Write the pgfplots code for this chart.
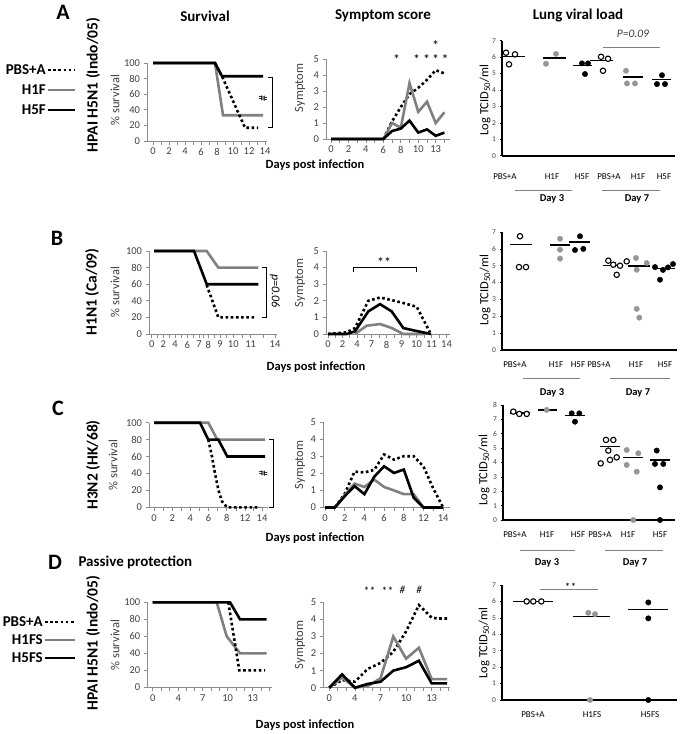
\documentclass[border=0pt]{standalone}
\usepackage{fontspec}
\setmainfont{Carlito}
\usepackage{pgfplots}
\pgfplotsset{compat=1.18}
\definecolor{gline}{RGB}{128,128,128}
\definecolor{gdot}{RGB}{150,150,150}
\definecolor{axg}{RGB}{140,140,140}
\definecolor{tickc}{RGB}{64,64,64}
\newcommand\tickf{\fontsize{10.5}{12}\selectfont}
\newcommand\ylf{\fontsize{12.5}{14}\selectfont}
\newcommand\rowf{\fontsize{15.5}{17}\selectfont\bfseries}
\newcommand\legf{\fontsize{15}{17}\selectfont\bfseries}
\newcommand\titf{\fontsize{15}{18}\selectfont\bfseries}
\newcommand\letf{\fontsize{22}{24}\selectfont\bfseries}
\newcommand\dpif{\fontsize{12.5}{15}\selectfont\bfseries}
\newcommand\luxf{\fontsize{9}{11}\selectfont}
\newcommand\dayf{\fontsize{10.5}{12}\selectfont\bfseries}
\newcommand\starf{\fontsize{14}{15}\selectfont}
\newcommand\stards{\fontsize{12}{13}\selectfont}
\tikzset{
 dotl/.style={black, line width=2.6pt, dash pattern=on 2.6pt off 2.6pt},
 gl/.style={gline, line width=2.6pt},
 bl/.style={black, line width=2.6pt},
 brk/.style={black, line width=0.7pt},
 st/.style={anchor=base, inner sep=0, font=\starf},
}
\pgfplotsset{
 xl/.style={scale only axis, clip=false, anchor=south west,
   axis x line*=bottom, axis y line*=left,
   axis line style={draw=axg, line width=0.9pt},
   every tick/.style={draw=axg, line width=0.8pt},
   tick align=outside, major tick length=3.5pt, minor tick length=3.5pt,
   ticklabel style={font=\tickf, text=tickc},
   /pgf/number format/assume math mode=true},
 sv/.style={xl, ymin=0, ymax=100, ytick={0,20,40,60,80,100}},
 sy/.style={xl, ymin=0, ymax=5, ytick={0,1,2,3,4,5}},
 lu/.style={scale only axis, clip=false, anchor=south west,
   axis x line*=bottom, axis y line*=left,
   axis line style={black, line width=2.4pt},
   xtick=\empty, ymin=0, ytick distance=1, minor y tick num=4,
   tick align=outside, major tick length=2.5pt, minor tick length=1.5pt,
   every tick/.style={black, line width=0.6pt},
   yticklabel style={font=\fontsize{7.5}{8}\selectfont, text=tickc},
   /pgf/number format/assume math mode=true},
 op/.style={only marks, mark=*, mark size=2.7pt, mark options={draw=black, fill=white, line width=1.1pt}},
 gp/.style={only marks, mark=*, mark size=2.7pt, mark options={draw=gdot, fill=gdot}},
 bp/.style={only marks, mark=*, mark size=2.7pt, mark options={draw=black, fill=black}},
 md/.style={black, line width=1.3pt},
}
\begin{document}
\begin{tikzpicture}
\path[use as bounding box] (0pt,0pt) rectangle (685pt,-734pt);

% ---------- headers ----------
\node[font=\letf] at (63pt,-12pt) {A};
\node[font=\titf] at (205pt,-16pt) {Survival};
\node[font=\titf] at (383pt,-16pt) {Symptom score};
\node[font=\titf] at (578pt,-16pt) {Lung viral load};

% ---------- Row A texts ----------
\node[anchor=east, inner sep=0, font=\legf] at (46pt,-70pt) {PBS+A};
\node[anchor=east, inner sep=0, font=\legf] at (46pt,-90pt) {H1F};
\node[anchor=east, inner sep=0, font=\legf] at (46pt,-110pt) {H5F};
\draw[dotl] (48pt,-70pt) -- (75pt,-70pt);
\draw[gl] (48pt,-90pt) -- (75pt,-90pt);
\draw[bl] (48pt,-110pt) -- (75pt,-110pt);
\node[rotate=90, font=\rowf] at (93pt,-85pt) {HPAI H5N1 (Indo/05)};
\node[rotate=90, font=\ylf, text=tickc] at (115pt,-100pt) {\% survival};
\node[rotate=90, font=\ylf, text=tickc] at (300pt,-88pt) {Symptom};
\node[font=\dpif] at (315pt,-165pt) {Days post infection};
\node[rotate=90, font=\ylf] at (485pt,-100pt) {Log TCID\textsubscript{50}/ml};

% ---------- A survival ----------
\begin{axis}[sv, at={(147pt,-141pt)}, width=120pt, height=78pt, xmin=147, xmax=267,
 xtick={153,169,185,201,217,233,249,265}, xticklabels={0,2,4,6,8,10,12,14},
 minor xtick={161,177,193,209,225,241,257}]
\addplot[gl] coordinates {(153,100)(215,100)(223,33)(263,33)};
\addplot[bl] coordinates {(153,100)(215,100)(222,83)(263,83)};
\addplot[dotl] coordinates {(215,100)(222,83)(245,17)(258,17)};
\draw[brk] (axis cs:268,81) -- (axis cs:272,81) -- (axis cs:272,18) -- (axis cs:268,18);
\node[rotate=90, font=\fontsize{12}{14}\selectfont] at (axis cs:263,55) {\#};
\end{axis}

% ---------- A symptom ----------
\begin{axis}[sy, at={(326pt,-139pt)}, width=124pt, height=80pt, xmin=326, xmax=450,
 xtick={331,348.45,365.9,383.35,400.8,418.25,435.7}, xticklabels={0,2,4,6,8,10,13},
 minor xtick={339.7,357.2,374.6,392.1,409.5,427,444.4}]
\addplot[dotl] coordinates {(383.35,0)(392.1,1.1)(400.8,2.0)(409.5,2.8)(418.25,3.2)(427,3.7)(435.7,4.3)(444.4,4.1)};
\addplot[gl] coordinates {(331,0)(383.35,0)(392.1,1.0)(400.8,0.7)(409.5,3.5)(418.25,1.7)(427,2.33)(435.7,1.0)(444.4,1.67)};
\addplot[bl] coordinates {(331,0)(383.35,0)(392.1,0.5)(400.8,0.65)(409.5,1.15)(418.25,0.4)(427,0.6)(435.7,0.2)(444.4,0.4)};
\node[st] at (axis cs:396.7,4.65) {*};
\node[st] at (axis cs:416.7,4.65) {*};
\node[st] at (axis cs:426.7,4.65) {*};
\node[st] at (axis cs:435.7,4.65) {*};
\node[st] at (axis cs:445,4.65) {*};
\node[st] at (axis cs:435.7,5.55) {*};
\end{axis}

% ---------- A lung ----------
\begin{axis}[lu, at={(502pt,-155.7pt)}, width=173pt, height=115pt, xmin=502, xmax=675, ymax=7]
\addplot[md] coordinates {(503,6.05)(525,6.05)};
\addplot[op] coordinates {(506,6.27)(515,6.17)(509,5.56)};
\addplot[md] coordinates {(543,5.95)(566,5.95)};
\addplot[gp] coordinates {(556,6.2)(546,5.6)};
\addplot[md] coordinates {(573,5.5)(592,5.5)};
\addplot[bp] coordinates {(582,5.62)(588,5.62)(585,4.97)};
\addplot[md] coordinates {(590,5.8)(613,5.8)};
\addplot[op] coordinates {(601,6.02)(608,5.9)(603,5.17)};
\addplot[md] coordinates {(623,4.8)(643,4.8)};
\addplot[gp] coordinates {(626,5.17)(627,4.4)(635,4.4)};
\addplot[md] coordinates {(652,4.65)(671,4.65)};
\addplot[bp] coordinates {(662,4.9)(657,4.36)(665,4.36)};
\end{axis}
\draw[gline, line width=0.9pt] (603pt,-47pt) -- (660pt,-47pt);
\node[font=\itshape\fontsize{11.5}{13}\selectfont, text=tickc] at (633pt,-34pt) {P=0.09};
\foreach \lx/\lt in {505/PBS+A,552/H1F,582/H5F,609/PBS+A,638/H1F,664/H5F}{
 \node[font=\luxf] at (\lx pt,-177pt) {\lt};}
\draw[gline, line width=0.9pt] (515pt,-190pt) -- (572pt,-190pt);
\draw[gline, line width=0.9pt] (602pt,-190pt) -- (660pt,-190pt);
\node[font=\dayf] at (552pt,-199pt) {Day 3};
\node[font=\dayf] at (637pt,-199pt) {Day 7};

% ---------- Row B texts ----------
\node[font=\letf] at (57pt,-238pt) {B};
\node[rotate=90, font=\rowf] at (92pt,-292pt) {H1N1 (Ca/09)};
\node[rotate=90, font=\ylf, text=tickc] at (115pt,-292pt) {\% survival};
\node[rotate=90, font=\ylf, text=tickc] at (300pt,-283pt) {Symptom};
\node[font=\dpif] at (316pt,-367pt) {Days post infection};
\node[rotate=90, font=\ylf] at (485pt,-290pt) {Log TCID\textsubscript{50}/ml};

% ---------- B survival ----------
\begin{axis}[sv, at={(149pt,-334pt)}, width=128pt, height=83pt, xmin=149, xmax=277,
 xtick={151.7,163.3,175,187.3,199,208.3,220,233.3,250.7,275}, xticklabels={0,2,4,6,7,8,9,10,11,14},
 minor xtick={157.5,169.2,181.2,193.2,203.7,214.2,226.7,242,262.9}]
\addplot[gl] coordinates {(154,100)(206.7,100)(218.3,80)(258.3,80)};
\addplot[bl] coordinates {(154,100)(194,100)(206.7,60)(258.3,60)};
\addplot[dotl] coordinates {(206.7,59)(218.3,20)(256.7,20)};
\draw[brk] (axis cs:262,80) -- (axis cs:266.7,80) -- (axis cs:266.7,20) -- (axis cs:262,20);
\node[rotate=-90, font=\itshape\fontsize{12}{14}\selectfont] at (axis cs:275,52) {p=0.06};
\end{axis}

% ---------- B symptom ----------
\begin{axis}[sy, at={(326pt,-334pt)}, width=124pt, height=83pt, xmin=326, xmax=450,
 xtick={328,342.5,357,371.5,386.5,401.5,416.5,431.5,446.5}, xticklabels={0,2,4,7,8,9,10,11,14},
 minor xtick={335.2,349.7,364.2,379,394,409,424,439}]
\addplot[dotl] coordinates {(328,0)(346.7,0.1)(355,0.36)(368.3,2.0)(380,2.2)(391.7,2.04)(405,1.84)(416.7,1.64)(430,0.1)};
\addplot[gl] coordinates {(355,0)(366.7,0.5)(380,0.6)(391.7,0.36)(403.3,0)(425,0)};
\addplot[bl] coordinates {(328,0)(346.7,0)(355,0.16)(368.3,1.36)(380,1.8)(391.7,1.36)(403.3,0.36)(415,0.2)(431,0)};
\draw[brk] (axis cs:353.3,3.76) -- (axis cs:353.3,4.04) -- (axis cs:416.7,4.04) -- (axis cs:416.7,3.76);
\node[st] at (axis cs:384,4.0) {**};
\end{axis}

% ---------- B lung ----------
\begin{axis}[lu, at={(502pt,-350pt)}, width=175pt, height=118pt, xmin=502, xmax=677, ymax=7]
\addplot[md] coordinates {(510,6.25)(532,6.25)};
\addplot[op] coordinates {(520,6.75)(519,4.92)(526,4.92)};
\addplot[md] coordinates {(550,6.23)(570,6.23)};
\addplot[gp] coordinates {(560,6.6)(560,5.95)(560,5.42)};
\addplot[md] coordinates {(569,6.4)(590,6.4)};
\addplot[bp] coordinates {(580,6.75)(575,5.93)(583.3,6.0)};
\addplot[md] coordinates {(603,5.0)(623,5.0)};
\addplot[op] coordinates {(608.3,5.3)(613.3,5.06)(620,5.0)(626.7,5.26)(616.7,4.46)};
\addplot[md] coordinates {(628,4.98)(650,4.98)};
\addplot[gp] coordinates {(636,5.46)(636.7,4.76)(646.7,5.16)(636.7,2.44)(639.3,1.92)};
\addplot[md] coordinates {(653,4.85)(675,4.85)};
\addplot[bp] coordinates {(655,4.92)(663,4.75)(668,4.9)(673,5.1)(660,4.17)};
\end{axis}
\foreach \lx/\lt in {515/PBS+A,556/H1F,578/H5F,599/PBS+A,636/H1F,665/H5F}{
 \node[font=\luxf] at (\lx pt,-365pt) {\lt};}
\draw[gline, line width=0.9pt] (523pt,-378pt) -- (580pt,-378pt);
\draw[gline, line width=0.9pt] (610pt,-378pt) -- (670pt,-378pt);
\node[font=\dayf] at (552pt,-393pt) {Day 3};
\node[font=\dayf] at (638pt,-393pt) {Day 7};

% ---------- Row C texts ----------
\node[font=\letf] at (58pt,-408pt) {C};
\node[rotate=90, font=\rowf] at (93pt,-465pt) {H3N2 (HK/68)};
\node[rotate=90, font=\ylf, text=tickc] at (113pt,-465pt) {\% survival};
\node[rotate=90, font=\ylf, text=tickc] at (300pt,-465pt) {Symptom};
\node[font=\dpif] at (315pt,-538pt) {Days post infection};
\node[rotate=90, font=\ylf] at (484pt,-470pt) {Log TCID\textsubscript{50}/ml};

% ---------- C survival ----------
\begin{axis}[sv, at={(149pt,-507.3pt)}, width=119pt, height=84.6pt, xmin=149, xmax=268,
 xtick={154,172.2,190.4,208.6,226.8,245,262}, xticklabels={0,2,4,6,8,12,14},
 minor xtick={163.1,181.3,199.5,217.7,235.9,253.5}]
\addplot[gl] coordinates {(154,100)(208.3,100)(217.3,80)(265,80)};
\addplot[bl] coordinates {(154,100)(200,100)(208.3,80)(218.3,80)(227.3,60)(265,60)};
\addplot[dotl] coordinates {(208.3,80)(212,60)(215,40)(218.5,20)(222,7)(227,0)(260,0)};
\draw[brk] (axis cs:269,80) -- (axis cs:273.3,80) -- (axis cs:273.3,0) -- (axis cs:269,0);
\node[rotate=90, font=\fontsize{12}{14}\selectfont] at (axis cs:263.3,40) {\#};
\end{axis}

% ---------- C symptom ----------
\begin{axis}[sy, at={(323pt,-507.5pt)}, width=127pt, height=85.5pt, xmin=323, xmax=450,
 xtick={325,344.7,364.4,384.1,403.8,423.5,443.2}, xticklabels={0,2,4,6,8,12,14},
 minor xtick={334.85,354.55,374.25,393.95,413.65,433.35}]
\addplot[dotl] coordinates {(325,0)(334.85,0)(344.7,0.8)(354.55,2.1)(364.4,2.05)(374.25,2.2)(384.1,3.1)(393.95,2.8)(403.8,3.0)(413.65,3.0)(423.5,2.4)(433.35,1.1)(443.2,0)};
\addplot[gl] coordinates {(325,0)(334.85,0)(344.7,0.72)(354.55,1.4)(364.4,1.2)(374.25,1.63)(384.1,1.2)(393.95,1.0)(403.8,0.78)(413.65,0.78)(423.5,0)};
\addplot[bl] coordinates {(325,0)(334.85,0)(344.7,0.66)(354.55,1.25)(364.4,0.78)(374.25,1.8)(384.1,2.41)(393.95,2.02)(403.8,2.22)(413.65,0.58)(423.5,0)(433.35,0)(443.2,0)};
\end{axis}

% ---------- C lung ----------
\begin{axis}[lu, at={(503pt,-520pt)}, width=172pt, height=115pt, xmin=503, xmax=675, ymax=8]
\addplot[md] coordinates {(510,7.45)(530,7.45)};
\addplot[op] coordinates {(513.3,7.54)(519.3,7.38)(526.7,7.38)};
\addplot[md] coordinates {(538,7.66)(557,7.66)};
\addplot[gp] coordinates {(546.7,7.66)};
\addplot[md] coordinates {(565,7.26)(585,7.26)};
\addplot[bp] coordinates {(571.7,7.42)(579.3,7.42)(575,6.84)};
\addplot[md] coordinates {(600,5.1)(620,5.1)};
\addplot[op] coordinates {(606,5.57)(613.3,5.57)(608.3,4.83)(600.7,3.94)(610,4.18)(616.7,4.36)};
\addplot[md] coordinates {(623,4.36)(643,4.36)};
\addplot[gp] coordinates {(626.7,4.87)(638.3,4.64)(626.7,3.83)(636.7,3.36)(633.3,0)};
\addplot[md] coordinates {(650,4.18)(670,4.18)};
\addplot[bp] coordinates {(656.7,4.83)(655,3.9)(663.3,3.9)(660,2.27)(660,0)};
\end{axis}
\foreach \lx/\lt in {515/PBS+A,547/H1F,578/H5F,600/PBS+A,628/H1F,660/H5F}{
 \node[font=\luxf] at (\lx pt,-535pt) {\lt};}
\draw[gline, line width=0.9pt] (520pt,-550pt) -- (575pt,-550pt);
\draw[gline, line width=0.9pt] (605pt,-550pt) -- (663pt,-550pt);
\node[font=\dayf] at (547pt,-563pt) {Day 3};
\node[font=\dayf] at (635pt,-563pt) {Day 7};

% ---------- Row D texts ----------
\node[font=\letf] at (55pt,-562pt) {D};
\node[anchor=west, font=\titf] at (75pt,-562pt) {Passive protection};
\node[anchor=east, inner sep=0, font=\legf] at (43pt,-622pt) {PBS+A};
\node[anchor=east, inner sep=0, font=\legf] at (43pt,-640pt) {H1FS};
\node[anchor=east, inner sep=0, font=\legf] at (43pt,-658pt) {H5FS};
\draw[dotl] (45pt,-622pt) -- (75pt,-622pt);
\draw[gl] (45pt,-640pt) -- (75pt,-640pt);
\draw[bl] (45pt,-658pt) -- (75pt,-658pt);
\node[rotate=90, font=\rowf] at (93pt,-643pt) {HPAI H5N1 (Indo/05)};
\node[rotate=90, font=\ylf, text=tickc] at (115pt,-645pt) {\% survival};
\node[rotate=90, font=\ylf, text=tickc] at (300pt,-645pt) {Symptom};
\node[font=\dpif] at (305pt,-725pt) {Days post infection};
\node[rotate=90, font=\ylf] at (484pt,-643pt) {Log TCID\textsubscript{50}/ml};

% ---------- D survival ----------
\begin{axis}[sv, at={(147.3pt,-687.3pt)}, width=124.4pt, height=85pt, xmin=147.3, xmax=271.7,
 xtick={152.7,178.3,202.7,227.7,252.7}, xticklabels={0,4,7,10,13},
 minor xtick={161.2,169.7,186.5,194.6,211,219.4,236,244.4,261,269}]
\addplot[gl] coordinates {(152.7,100)(216.7,100)(226.7,60)(240,40)(266.7,40)};
\addplot[dotl] coordinates {(228.3,100)(239.3,20)(265,20)};
\addplot[bl] coordinates {(152.7,100)(230,100)(240,80)(266.7,80)};
\end{axis}

% ---------- D symptom ----------
\begin{axis}[sy, at={(323.3pt,-687.7pt)}, width=126.7pt, height=85.4pt, xmin=323.3, xmax=450,
 xtick={329.3,354.9,380.5,406.1,431.7}, xticklabels={0,4,7,10,13},
 minor xtick={337.8,346.4,363.4,372,389,397.6,414.6,423.2,440.3,448.8}]
\addplot[dotl] coordinates {(329.3,0)(342.1,0.45)(354.9,0.35)(367.7,1.1)(380.5,1.45)(393.3,2.1)(406.1,3.3)(418.9,4.84)(431.7,4.1)(438,4.05)(447,4.05)};
\addplot[gl] coordinates {(329.3,0)(342.1,0.6)(354.9,0)(367.7,0.1)(380.5,0.55)(393.3,3.0)(406.1,1.7)(418.9,2.34)(431.7,0.5)(447,0.5)};
\addplot[bl] coordinates {(329.3,0)(342.1,0.78)(354.9,0)(367.7,0.22)(380.5,0.35)(393.3,1.0)(406.1,1.2)(418.9,1.58)(431.7,0.25)(447,0.25)};
\node[st, font=\itshape\stards] at (axis cs:369,5.4) {**};
\node[st, font=\itshape\stards] at (axis cs:387,5.4) {**};
\node[st, font=\itshape\fontsize{11}{12}\selectfont] at (axis cs:402.3,5.5) {\#};
\node[st, font=\itshape\fontsize{11}{12}\selectfont] at (axis cs:419,5.5) {\#};
\end{axis}

% ---------- D lung ----------
\begin{axis}[lu, at={(502pt,-700pt)}, width=175pt, height=115pt, xmin=502, xmax=677, ymax=7]
\addplot[md] coordinates {(513,6)(553,6)};
\addplot[op] coordinates {(526.7,6)(533.3,6)(541.3,6)};
\addplot[md] coordinates {(573,5.07)(610,5.07)};
\addplot[gp] coordinates {(588.3,5.31)(595,5.23)(590,0)};
\addplot[md] coordinates {(628,5.52)(668,5.52)};
\addplot[bp] coordinates {(648.3,5.94)(648.3,4.97)(648.3,0)};
\end{axis}
\draw[gline, line width=0.9pt] (540pt,-589pt) -- (598pt,-589pt);
\node[anchor=base, inner sep=0, font=\itshape\stards] at (570pt,-591pt) {**};
\node[font=\luxf] at (533pt,-715pt) {PBS+A};
\node[font=\luxf] at (592pt,-715pt) {H1FS};
\node[font=\luxf] at (650pt,-715pt) {H5FS};
\end{tikzpicture}
\end{document}
